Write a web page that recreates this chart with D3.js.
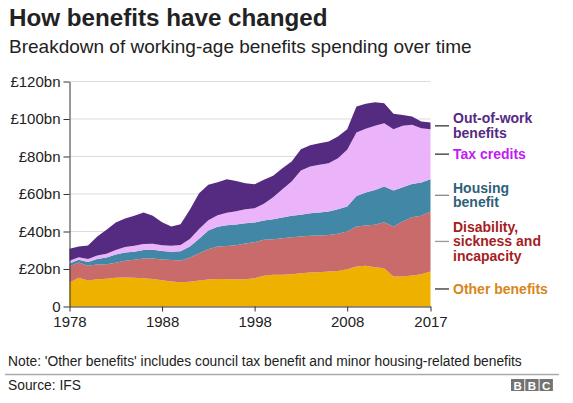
<!DOCTYPE html>
<html>
<head>
<meta charset="utf-8">
<script src="https://cdn.jsdelivr.net/npm/d3@7"></script>
<style>
  body { margin: 0; background: #fff; }
  text { font-family: "Liberation Sans", Arial, Helvetica, sans-serif; }
</style>
</head>
<body>
<svg width="573" height="403"></svg>
<script>
// spending in £bn, one value per year 1978..2017
const years = d3.range(1978, 2018);
const otherBenefits = [12.8,15.3,13.9,14.6,14.8,15.4,15.5,15.4,15.1,14.7,14.0,13.3,12.9,13.2,13.9,14.4,14.7,14.7,14.4,14.5,15.1,16.4,16.9,16.9,17.2,17.8,18.1,18.3,18.7,19.0,19.9,21.3,21.7,21.0,20.4,16.0,16.0,16.5,17.2,18.7];
const disability = [8.7,8.2,7.8,7.8,7.8,7.9,8.9,9.5,10.5,10.9,11.1,11.5,11.6,12.8,14.5,16.2,17.3,17.6,18.3,19.1,19.2,19.2,19.0,19.5,19.8,19.5,19.6,19.6,19.5,19.8,20.1,21.4,21.5,22.6,24.6,26.7,29.3,31.1,31.2,32.0];
const housing = [1.4,1.4,2.1,3.0,3.5,4.4,4.4,4.3,4.5,4.7,4.5,4.4,5.0,6.0,7.8,9.9,10.5,11.0,11.1,10.8,10.5,10.3,10.7,11.1,11.4,11.6,12.1,12.2,12.5,13.1,13.3,16.3,17.6,18.6,19.0,19.2,18.3,17.8,17.7,17.2];
const taxCredits = [1.5,1.4,1.5,1.8,2.0,2.5,2.9,3.2,3.2,3.2,3.1,3.2,3.3,4.0,5.2,5.5,6.2,6.7,7.0,7.5,7.6,8.9,11.7,15.1,18.3,23.6,24.9,25.5,25.7,27.2,30.3,33.8,34.0,34.2,33.8,32.7,32.8,31.5,29.0,26.7];
const outOfWork = [6.4,5.7,7.2,10.1,12.8,14.6,15.2,16.0,16.8,14.9,12.3,10.3,11.1,15.6,19.0,18.9,17.6,17.9,16.2,13.9,12.8,12.8,11.4,11.2,10.6,11.4,11.3,11.5,11.6,11.6,11.0,13.9,13.3,12.6,10.6,8.2,5.8,4.4,3.6,3.5];

const yTicks = [0, 20, 40, 60, 80, 100, 120];
const xTicks = [1978, 1988, 1998, 2008, 2017];

const series = [
  {key: "other", values: otherBenefits, fill: "#efb100", label: ["Other benefits"], color: "#d8861a", mark: "#333"},
  {key: "disability", values: disability, fill: "#c96b6b", label: ["Disability,", "sickness and", "incapacity"], color: "#a51d22", mark: "#999"},
  {key: "housing", values: housing, fill: "#4287a6", label: ["Housing", "benefit"], color: "#2e6178", mark: "#888"},
  {key: "tax", values: taxCredits, fill: "#ebb4fa", label: ["Tax credits"], color: "#c21af5", mark: "#333"},
  {key: "outOfWork", values: outOfWork, fill: "#552a81", label: ["Out-of-work", "benefits"], color: "#562a84", mark: "#333"}
];

const table = years.map((yr, i) => {
  const row = {year: yr};
  series.forEach(s => row[s.key] = s.values[i]);
  return row;
});

const svg = d3.select("svg");

const x = d3.scaleLinear().domain([1978, 2017]).range([69.5, 430.5]);
const y = d3.scaleLinear().domain([0, 120]).range([306.5, 81.5]);

// title block
svg.append("text").attr("x", 9).attr("y", 26)
  .attr("font-size", 24.2).attr("font-weight", "bold").attr("fill", "#222")
  .text("How benefits have changed");
svg.append("text").attr("x", 9).attr("y", 53)
  .attr("font-size", 19).attr("fill", "#222")
  .text("Breakdown of working-age benefits spending over time");

// gridlines
svg.append("g").selectAll("line")
  .data(yTicks.filter(d => d > 0))
  .enter().append("line")
  .attr("x1", x(1978)).attr("x2", x(2017))
  .attr("y1", d => y(d)).attr("y2", d => y(d))
  .attr("stroke", "#dcdcdc").attr("stroke-width", 1);

const stack = d3.stack().keys(series.map(s => s.key));
const layers = stack(table);

const area = d3.area()
  .x(d => x(d.data.year))
  .y0(d => y(d[0]))
  .y1(d => y(d[1]));

svg.append("g").selectAll("path")
  .data(layers)
  .enter().append("path")
  .attr("d", area)
  .attr("fill", (d, i) => series[i].fill);

// axes
const yAxis = d3.axisLeft(y).tickValues(yTicks).tickSize(6).tickSizeOuter(0).tickPadding(3)
  .tickFormat(d => d === 0 ? "0" : `£${d}bn`);
const xAxis = d3.axisBottom(x).tickValues(xTicks).tickSize(5).tickSizeOuter(0).tickPadding(5)
  .tickFormat(d3.format("d"));

const yAxisGroup = svg.append("g").attr("transform", `translate(${x(1978)},0)`).call(yAxis);
const xAxisGroup = svg.append("g").attr("transform", `translate(0,${y(0)})`).call(xAxis);

[yAxisGroup, xAxisGroup].forEach(g => {
  g.select(".domain").attr("stroke", "#333");
  g.selectAll(".tick line").attr("stroke", "#333");
  g.selectAll("text").attr("font-size", 15).attr("fill", "#222")
    .attr("font-family", "Liberation Sans, Arial, sans-serif");
});

// right-hand labels, centred on each band at 2017
const lineH = 14.5;
layers.forEach((layer, i) => {
  const s = series[i];
  const last = layer[layer.length - 1];
  const cy = y((last[0] + last[1]) / 2);
  svg.append("line")
    .attr("x1", 435).attr("x2", 449).attr("y1", cy).attr("y2", cy)
    .attr("stroke", s.mark).attr("stroke-width", 1.3);
  const t = svg.append("text")
    .attr("x", 453)
    .attr("y", cy - (s.label.length - 1) * lineH / 2)
    .attr("font-size", 14).attr("font-weight", "bold").attr("fill", s.color);
  s.label.forEach((ln, j) => {
    t.append("tspan").attr("x", 453)
      .attr("dy", j === 0 ? "0.35em" : lineH)
      .text(ln);
  });
});

// footer
svg.append("text").attr("x", 8).attr("y", 366)
  .attr("font-size", 13.8).attr("fill", "#222")
  .text("Note: 'Other benefits' includes council tax benefit and minor housing-related benefits");
svg.append("line").attr("x1", 5).attr("x2", 559).attr("y1", 374.5).attr("y2", 374.5)
  .attr("stroke", "#aaa").attr("stroke-width", 1.5);
svg.append("text").attr("x", 8).attr("y", 390)
  .attr("font-size", 13.8).attr("fill", "#222")
  .text("Source: IFS");

const bbc = svg.append("g").attr("transform", "translate(511,379)");
["B", "B", "C"].forEach((ch, i) => {
  bbc.append("rect").attr("x", i * 14.3).attr("y", 0).attr("width", 13.3).attr("height", 12)
    .attr("fill", "#737373");
  bbc.append("text").attr("x", i * 14.3 + 6.65).attr("y", 10.5)
    .attr("text-anchor", "middle").attr("font-size", 11.5).attr("font-weight", "bold")
    .attr("fill", "#fff").text(ch);
});
</script>
</body>
</html>
